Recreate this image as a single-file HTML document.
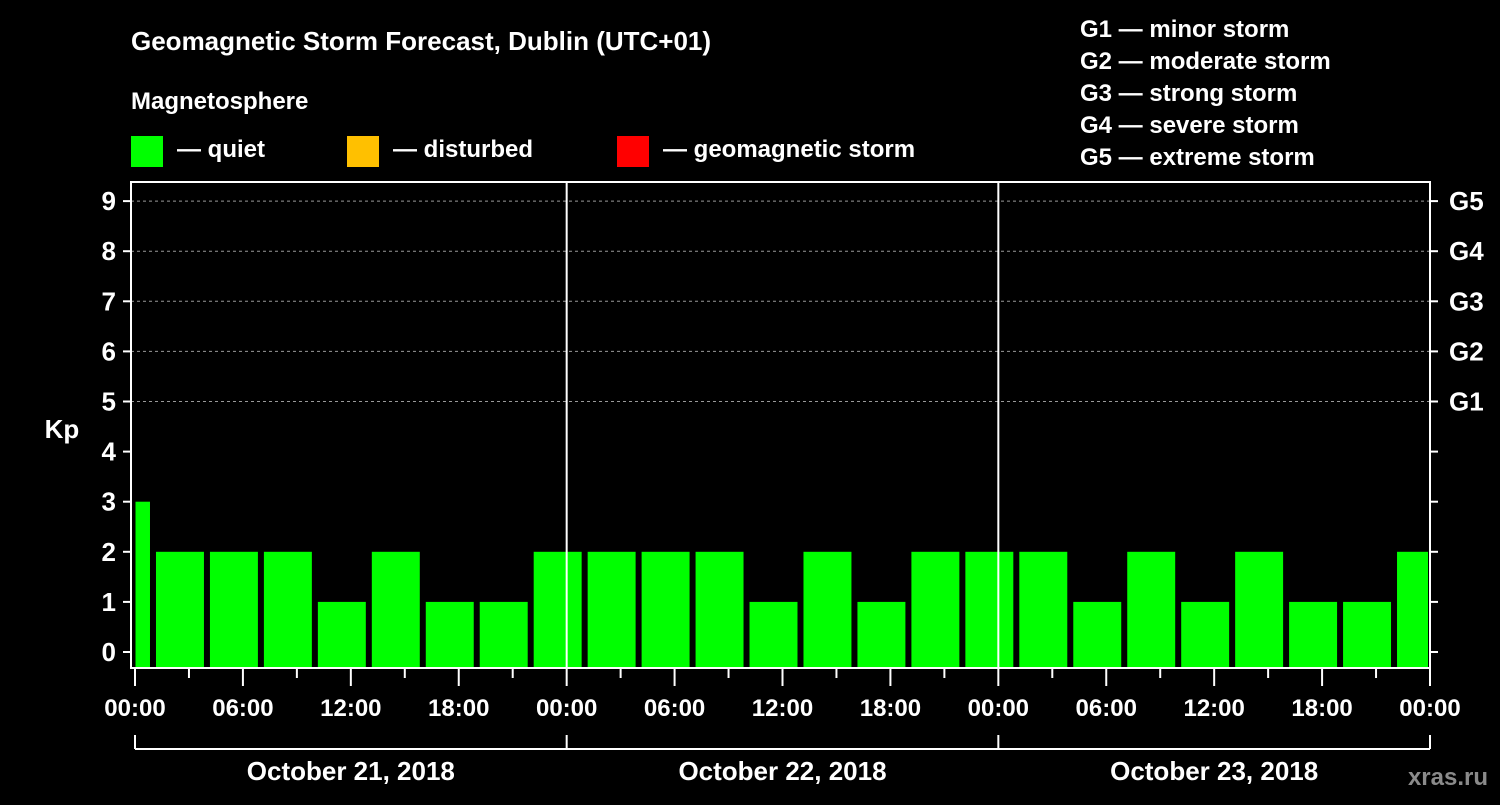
<!DOCTYPE html>
<html><head><meta charset="utf-8"><style>
body{margin:0;background:#000;width:1500px;height:800px;overflow:hidden}
svg text{font-family:"Liberation Sans",sans-serif;font-weight:bold;fill:#fff}
</style></head><body>
<svg id="c" width="1500" height="800" xmlns="http://www.w3.org/2000/svg">
<text x="131" y="50" font-size="26">Geomagnetic Storm Forecast, Dublin (UTC+01)</text>
<text x="131" y="109" font-size="24">Magnetosphere</text>
<rect x="131" y="136" width="32" height="31" fill="#00ff00"/>
<text x="177" y="157" font-size="24">— quiet</text>
<rect x="347" y="136" width="32" height="31" fill="#ffc000"/>
<text x="393" y="157" font-size="24">— disturbed</text>
<rect x="617" y="136" width="32" height="31" fill="#ff0000"/>
<text x="663" y="157" font-size="24">— geomagnetic storm</text>
<g font-size="24">
<text x="1080" y="37">G1 — minor storm</text>
<text x="1080" y="69">G2 — moderate storm</text>
<text x="1080" y="101">G3 — strong storm</text>
<text x="1080" y="133">G4 — severe storm</text>
<text x="1080" y="165">G5 — extreme storm</text>
</g>
<text x="62" y="438" font-size="26" text-anchor="middle">Kp</text>
<text x="1488" y="785" font-size="24" text-anchor="end" fill="#888" style="fill:#8a8a8a">xras.ru</text>
<g id="g"></g>
</svg>
<script>
const kpValues=[3,2,2,2,1,2,1,1,2,2,2,2,1,2,1,2,2,2,1,2,1,2,1,1,2];
const dayLabels=["October 21, 2018","October 22, 2018","October 23, 2018"];
const hourLabels=["00:00","06:00","12:00","18:00"];
const gLabels=["G1","G2","G3","G4","G5"];
const NS="http://www.w3.org/2000/svg";
const g=document.getElementById('g');
const L=131,R=1430,T=182,B=668,X0=135,PXH=(1430-135)/72;
const x=h=>X0+h*PXH;
const y=v=>652-v*50.1;
function mk(t,a){const e=document.createElementNS(NS,t);for(const k in a)e.setAttribute(k,a[k]);g.appendChild(e);return e;}
// gridlines
for(let v=5;v<=9;v++){
 const e=mk('line',{x1:L,x2:R,y1:y(v),y2:y(v),stroke:'#999','stroke-dasharray':'3,3','stroke-width':1});
 
 
}
// bars
let start=0;
kpValues.forEach((v,i)=>{
 const dur=i===0?1:(i===kpValues.length-1?72-start:3);
 const x1=x(start)+(i===0?0.5:3), x2=x(start+dur)-(i===kpValues.length-1?2:3);
 const col=v>=5?'#ff0000':(v>=4?'#ffc000':'#00ff00');
 const e=mk('rect',{x:x1,y:y(v),width:x2-x1,height:B-y(v),fill:col});
 
 
 start+=dur;
});
// day separators
for(let d=1;d<3;d++){
 const e=mk('line',{x1:x(d*24),x2:x(d*24),y1:T,y2:B,stroke:'#fff','stroke-width':2});
 
 
}
// frame
const fr=mk('rect',{x:L,y:T,width:R-L,height:B-T,fill:'none',stroke:'#fff','stroke-width':2});


// y ticks
for(let v=0;v<=9;v++){
 mk('line',{x1:L-8,x2:L,y1:y(v),y2:y(v),stroke:'#fff','stroke-width':2});
 mk('line',{x1:R,x2:R+8,y1:y(v),y2:y(v),stroke:'#fff','stroke-width':2});
 const t=mk('text',{x:116,y:y(v)+9,'font-size':26,'text-anchor':'end'});t.textContent=v;
 
 
}
gLabels.forEach((s,i)=>{
 const t=mk('text',{x:1449,y:y(5+i)+9,'font-size':26});t.textContent=s;
 
 
});
// x ticks
for(let h=0;h<=72;h+=3){
 const major=h%6===0;
 mk('line',{x1:x(h),x2:x(h),y1:B,y2:B+(major?18:10),stroke:'#fff','stroke-width':2});
 if(major){
  const t=mk('text',{x:x(h),y:716,'font-size':24,'text-anchor':'middle'});t.textContent=hourLabels[(h/6)%4];
  
  
 }
}
// day brackets
mk('line',{x1:x(0),x2:x(72),y1:749,y2:749,stroke:'#fff','stroke-width':2});
for(let d=0;d<=3;d++)mk('line',{x1:x(d*24),x2:x(d*24),y1:735,y2:749,stroke:'#fff','stroke-width':2});
dayLabels.forEach((s,i)=>{
 const t=mk('text',{x:x(i*24+12),y:780,'font-size':26,'text-anchor':'middle'});t.textContent=s;
 
 
});
</script>
</body></html>
